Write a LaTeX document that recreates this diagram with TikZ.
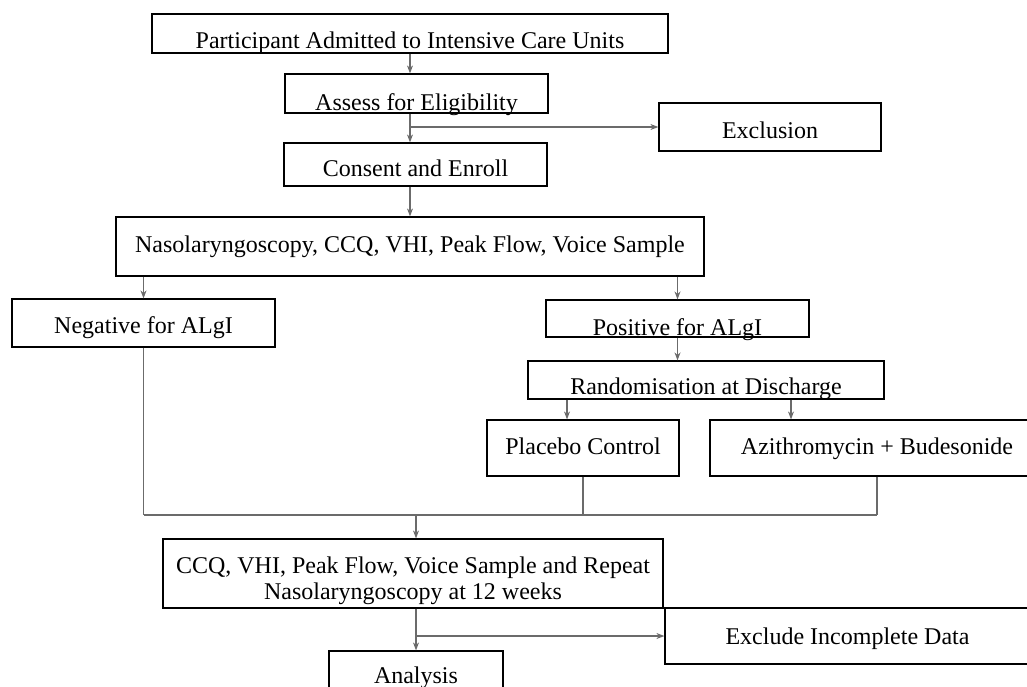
\documentclass[tikz,border=0pt]{standalone}
\usepackage{fontspec}
\setmainfont{Liberation Serif}
\definecolor{LinkGray}{HTML}{6B6B6B}
\usepackage{tikz}
\usetikzlibrary{arrows.meta, calc}

\begin{document}
\begin{tikzpicture}[x=0.5pt, y=-0.5pt, >=Stealth,
    box/.style={draw=black, line width=0.6pt, inner sep=0pt, text depth=0pt,
      font=\fontsize{12}{13}\selectfont},
    connline/.style={draw=LinkGray, line width=0.55pt},
    connarrow/.style={connline, -{Stealth[length=4pt, width=3pt]}}]
  \useasboundingbox (0,0) rectangle (1027,686);
  \clip (0,0) rectangle (1027,686);

  % Screening
  \node[box, minimum width=258pt, minimum height=19.5pt, text height=14.5pt] (admit) at (410,33.5) {Participant Admitted to Intensive Care Units};
  \node[box, minimum width=131.5pt, minimum height=19.5pt, text height=16.5pt] (assess) at (416.5,93.5) {Assess for Eligibility};
  \node[box, minimum width=111pt, minimum height=24pt, text height=11pt] (excl) at (770,127) {Exclusion};
  \node[box, minimum width=131.5pt, minimum height=21.5pt, text height=11.5pt] (consent) at (415.5,164.5) {Consent and Enroll};
  \node[box, minimum width=294pt, minimum height=29.5pt, text height=5.5pt] (naso) at (410,246.5) {Nasolaryngoscopy, CCQ, VHI, Peak Flow, Voice Sample};

  % Result and randomisation
  \node[box, minimum width=131.5pt, minimum height=24pt, text height=10pt] (neg) at (143.5,323) {Negative for ALgI};
  \node[box, minimum width=131.5pt, minimum height=18.5pt, text height=16.5pt] (pos) at (677.5,318.5) {Positive for ALgI};
  \node[box, minimum width=178pt, minimum height=19pt, text height=14pt] (rand) at (706,380) {Randomisation at Discharge};
  \node[box, minimum width=96pt, minimum height=28pt, text height=6pt] (placebo) at (583,448) {Placebo Control};
  \node[box, minimum width=167pt, minimum height=28pt, text height=6pt] (azi) at (877,448) {Azithromycin + Budesonide};

  % Follow-up
  \node[box, minimum width=250pt, minimum height=34.5pt, text height=25.5pt, align=center] (followup) at (413,573.5) {CCQ, VHI, Peak Flow, Voice Sample and Repeat\\Nasolaryngoscopy at 12 weeks};
  \node[box, minimum width=182.5pt, minimum height=28pt, text height=8pt] (exclude) at (847.5,636) {Exclude Incomplete Data};
  \node[box, minimum width=87pt, minimum height=24.5pt, text height=7.5pt] (analysis) at (416,675.5) {Analysis};

  \coordinate (pl-in) at ([xshift=-8pt]placebo.north);
  \coordinate (az-in) at ([xshift=-43pt]azi.north);
  \coordinate (merge) at (416,515);

  % Connectors
  \draw[connarrow] (admit.south) -- (admit.south |- assess.north);
  \draw[connarrow] (admit.south |- assess.south) -- (admit.south |- consent.north);
  \draw[connarrow] (admit.south |- excl.west) -- (excl.west);
  \draw[connarrow] (admit.south |- consent.south) -- (admit.south |- naso.north);
  \draw[connarrow] (neg.north |- naso.south) -- (neg.north);
  \draw[connarrow] (pos.north |- naso.south) -- (pos.north);
  \draw[connarrow] (pos.south) -- (pos.south |- rand.north);
  \draw[connarrow] (pl-in |- rand.south) -- (pl-in);
  \draw[connarrow] (az-in |- rand.south) -- (az-in);

  \draw[connline] (neg.south) -- (neg.south |- merge);
  \draw[connline] (placebo.south) -- (placebo.south |- merge);
  \draw[connline] (azi.south) -- (azi.south |- merge);
  \draw[connline] (neg.south |- merge) -- (azi.south |- merge);
  \draw[connarrow] (merge) -- (merge |- followup.north);

  \draw[connarrow] (analysis.north |- followup.south) -- (analysis.north);
  \draw[connarrow] (analysis.north |- exclude.west) -- (exclude.west);
\end{tikzpicture}
\end{document}
